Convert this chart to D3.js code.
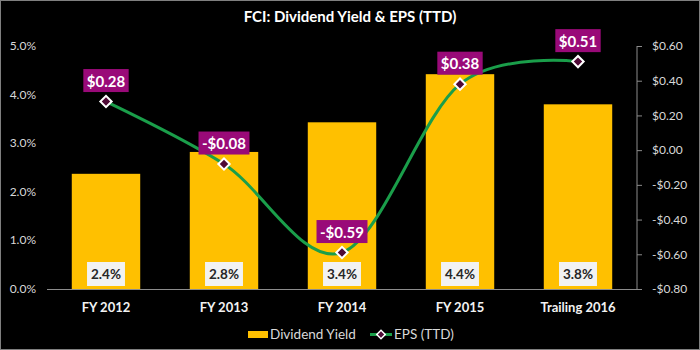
<!DOCTYPE html>
<html><head><meta charset="utf-8">
<script src="https://cdn.jsdelivr.net/npm/d3@7"></script>
<style>body{margin:0;background:#000;}svg{display:block;font-family:Lato,"Open Sans",sans-serif;}</style>
</head><body>
<svg id="c" width="700" height="350"></svg>
<script>
const categories = ["FY 2012","FY 2013","FY 2014","FY 2015","Trailing 2016"];
const yieldValues = [2.37, 2.82, 3.43, 4.42, 3.80];
const yieldLabels = ["2.4%","2.8%","3.4%","4.4%","3.8%"];
const epsValues = [0.28, -0.08, -0.59, 0.38, 0.51];
const epsLabels = ["$0.28","-$0.08","-$0.59","$0.38","$0.51"];
const leftTicks = [0,1,2,3,4,5];
const rightTicks = [-0.8,-0.6,-0.4,-0.2,0,0.2,0.4,0.6];

const svg = d3.select("#c");
svg.append("rect").attr("width",700).attr("height",350).attr("fill","#000");
svg.append("rect").attr("x",0.5).attr("y",0.5).attr("width",699).attr("height",349).attr("fill","none").attr("stroke","#7f7f7f").attr("stroke-width",1);

const L=47,R=637,T=46,B=289;
const x = d3.scaleBand().domain(categories).range([L,R]).paddingInner(0.42).paddingOuter(0.21);
const yL = d3.scaleLinear().domain([0,5]).range([B,T]);
const yR = d3.scaleLinear().domain([-0.8,0.6]).range([B,T]);

svg.append("text").attr("x",350).attr("y",22).attr("text-anchor","middle").attr("fill","#fff")
  .attr("font-weight","bold").attr("font-size",15).text("FCI: Dividend Yield & EPS (TTD)");

// left axis labels
svg.append("g").selectAll("text").data(leftTicks).join("text")
  .attr("x",36).attr("y",d=>yL(d)+4).attr("text-anchor","end").attr("fill","#d9d9d9").attr("font-size",12)
  .text(d=>d.toFixed(1)+"%");

// right axis
const ra = svg.append("g").attr("transform",`translate(${R},0)`)
  .call(d3.axisRight(yR).tickValues(rightTicks).tickSize(5).tickPadding(10)
    .tickFormat(d=>(d<0?"-$":"$")+Math.abs(d).toFixed(2)));
ra.select(".domain").attr("stroke","#8c8c8c").attr("d",`M0,${T}H0V${B}`);
ra.selectAll(".tick line").attr("stroke","#8c8c8c");
ra.selectAll(".tick text").attr("fill","#d9d9d9").attr("font-size",12).attr("font-family","Lato,'Open Sans',sans-serif");

// bars
svg.append("g").selectAll("rect").data(categories).join("rect")
  .attr("x",d=>x(d)).attr("width",x.bandwidth())
  .attr("y",(d,i)=>yL(yieldValues[i])).attr("height",(d,i)=>B-yL(yieldValues[i]))
  .attr("fill","#FFC000");

// baseline
svg.append("line").attr("x1",L).attr("x2",R).attr("y1",B+0.5).attr("y2",B+0.5).attr("stroke","#8c8c8c");

// bar labels
const bl = svg.append("g").selectAll("g").data(categories).join("g")
  .attr("transform",(d,i)=>`translate(${x(d)+x.bandwidth()/2},274)`);
const blr = bl.append("rect").attr("y",-12).attr("height",24).attr("fill","#f2f2f2");
const blt = bl.append("text").attr("y",5).attr("text-anchor","middle").attr("fill","#262626").attr("font-size",13.5).attr("font-weight","bold")
  .text((d,i)=>yieldLabels[i]);
blt.each(function(d,i){const w=this.getComputedTextLength()+8; d3.select(blr.nodes()[i]).attr("x",-w/2).attr("width",w);});

// line
const pts = categories.map((c,i)=>[x(c)+x.bandwidth()/2, yR(epsValues[i])]);
svg.append("path").attr("d",d3.line().curve(d3.curveCardinal.tension(0))(pts))
  .attr("fill","none").attr("stroke","#1a9e4a").attr("stroke-width",3);

// markers
svg.append("g").selectAll("path").data(pts).join("path")
  .attr("transform",d=>`translate(${d[0]},${d[1]}) rotate(45)`)
  .attr("d","M-4,-4H4V4H-4Z").attr("fill","#4f0a36").attr("stroke","#fff").attr("stroke-width",2);

// eps labels
const el = svg.append("g").selectAll("g").data(pts).join("g")
  .attr("transform",d=>`translate(${d[0]},${d[1]-21})`);
const elr = el.append("rect").attr("y",-11.5).attr("height",23).attr("fill","#990a78");
const elt = el.append("text").attr("y",6).attr("text-anchor","middle").attr("fill","#fff").attr("font-size",15).attr("font-weight","bold")
  .text((d,i)=>epsLabels[i]);
elt.each(function(d,i){const w=this.getComputedTextLength()+7; d3.select(elr.nodes()[i]).attr("x",-w/2).attr("width",w);});

// category labels
svg.append("g").selectAll("text").data(categories).join("text")
  .attr("x",d=>x(d)+x.bandwidth()/2).attr("y",312).attr("text-anchor","middle")
  .attr("fill","#f2f2f2").attr("font-size",13).attr("font-weight","bold").text(d=>d);

// legend
const lg = svg.append("g");
lg.append("rect").attr("x",248).attr("y",331).attr("width",20).attr("height",7).attr("fill","#FFC000");
lg.append("text").attr("x",270).attr("y",339).attr("fill","#d9d9d9").attr("font-size",13.5).text("Dividend Yield");
lg.append("line").attr("x1",370).attr("x2",392).attr("y1",334.5).attr("y2",334.5).attr("stroke","#1a9e4a").attr("stroke-width",3);
lg.append("path").attr("transform","translate(381,334.5) rotate(45)").attr("d","M-3,-3H3V3H-3Z")
  .attr("fill","#4f0a36").attr("stroke","#fff").attr("stroke-width",1.5);
lg.append("text").attr("x",394).attr("y",339).attr("fill","#d9d9d9").attr("font-size",13.5).text("EPS (TTD)");
</script>
</body></html>
